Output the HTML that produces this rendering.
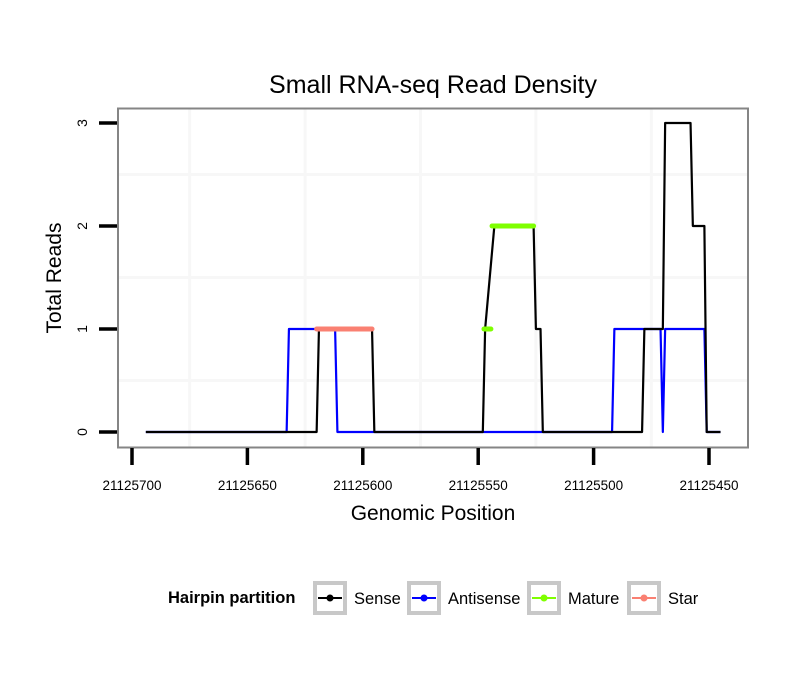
<!DOCTYPE html>
<html><head><meta charset="utf-8"><style>
body{margin:0;background:#fff;}
svg{display:block;font-family:"Liberation Sans",Arial,sans-serif;}
</style></head><body>
<svg id="chart" width="810" height="690">
<rect x="0" y="0" width="810" height="690" fill="#fff"/>
<text x="433" y="93" font-size="25" text-anchor="middle">Small RNA-seq Read Density</text>
<g id="grid"></g>
<g id="series"></g>
<rect x="118" y="108.5" width="630" height="339" fill="none" stroke="#858585" stroke-width="2"/>
<g id="axes"></g>
<text x="433" y="520" font-size="21" text-anchor="middle">Genomic Position</text>
<text x="0" y="0" font-size="21" text-anchor="middle" transform="translate(61,278) rotate(-90)">Total Reads</text>
<g>
<text x="168" y="603" font-size="16.5" font-weight="bold">Hairpin partition</text>
<g id="legend-items"></g>
</g>
</svg>
<script>
const xTicks=[21125700,21125650,21125600,21125550,21125500,21125450];
const xMinor=[21125675,21125625,21125575,21125525,21125475];
const yTicks=[0,1,2,3];
const yMinor=[0.5,1.5,2.5];
const antisensePos=[21125694,21125633,21125632,21125612,21125611,21125492,21125491,21125471,21125470,21125469,21125452,21125451,21125445];
const antisenseVal=[0,0,1,1,0,0,1,1,0,1,1,0,0];
const sensePos=[21125694,21125620,21125619,21125596,21125595,21125548,21125547,21125543,21125526,21125525,21125523,21125522,21125479,21125478,21125470,21125469,21125458,21125457,21125452,21125451,21125445];
const senseVal=[0,0,1,1,0,0,1,2,2,1,1,0,0,1,1,3,3,2,2,0,0];
const matureSegStart=[21125547.5,21125544];
const matureSegEnd=[21125544.5,21125526];
const matureVal=[1,2];
const starSegStart=[21125620];
const starSegEnd=[21125596];
const starVal=[1];
const legendLabels=["Sense","Antisense","Mature","Star"];
const legendColors=["#000000","#0000ff","#7fff00","#fa8072"];

const NS="http://www.w3.org/2000/svg";
function X(p){return 132+(21125700-p)*(577/250);}
function Y(v){return 432-v*103;}
function mk(tag,attrs,parent){const e=document.createElementNS(NS,tag);for(const k in attrs)e.setAttribute(k,attrs[k]);parent.appendChild(e);return e;}
const grid=document.getElementById('grid'),axes=document.getElementById('axes'),series=document.getElementById('series');
xMinor.forEach(p=>{const l=mk('line',{x1:X(p),x2:X(p),y1:109,y2:447,stroke:'#f7f7f7','stroke-width':3},grid);

});
yMinor.forEach(v=>{const l=mk('line',{x1:119,x2:747,y1:Y(v),y2:Y(v),stroke:'#f7f7f7','stroke-width':3},grid);

});
xTicks.forEach(p=>{const t=mk('line',{x1:X(p),x2:X(p),y1:448,y2:465,stroke:'#000','stroke-width':3.5},axes);


const tx=mk('text',{x:X(p),y:490,'font-size':13.5,'text-anchor':'middle'},axes);tx.textContent=p;

});
yTicks.forEach(v=>{const t=mk('line',{x1:99,x2:117,y1:Y(v),y2:Y(v),stroke:'#000','stroke-width':3.5},axes);


const tx=mk('text',{x:0,y:0,'font-size':14,'text-anchor':'middle',transform:`translate(87,${Y(v)}) rotate(-90)`},axes);tx.textContent=v;

});
function poly(pos,val,color,name){const pts=pos.map((p,i)=>X(p)+','+Y(val[i])).join(' ');
const l=mk('polyline',{points:pts,fill:'none',stroke:color,'stroke-width':2.2,'stroke-linejoin':'round'},series);

}
poly(antisensePos,antisenseVal,'#0000ff','antisense-line');
poly(sensePos,senseVal,'#000000','sense-line');
function segs(s,e,v,color,name){s.forEach((p,i)=>{const l=mk('line',{x1:X(p),x2:X(e[i]),y1:Y(v[i]),y2:Y(v[i]),stroke:color,'stroke-width':5,'stroke-linecap':'round'},series);

});}
segs(matureSegStart,matureSegEnd,matureVal,'#7fff00','mature-segment');
segs(starSegStart,starSegEnd,starVal,'#fa8072','star-segment');
const li=document.getElementById('legend-items');
const boxX=[313,407,527,627];
const textX=[354,448,568,668];
legendLabels.forEach((lab,i)=>{const g=mk('g',{},li);


mk('rect',{x:boxX[i]+2,y:583,width:30,height:30,fill:'#fff',stroke:'#c8c8c8','stroke-width':4},g);
mk('line',{x1:boxX[i]+5,x2:boxX[i]+29,y1:598,y2:598,stroke:legendColors[i],'stroke-width':2},g);
mk('circle',{cx:boxX[i]+17,cy:598,r:3.5,fill:legendColors[i]},g);
const t=mk('text',{x:textX[i],y:604,'font-size':16.5},g);t.textContent=lab;});
</script>
</body></html>
